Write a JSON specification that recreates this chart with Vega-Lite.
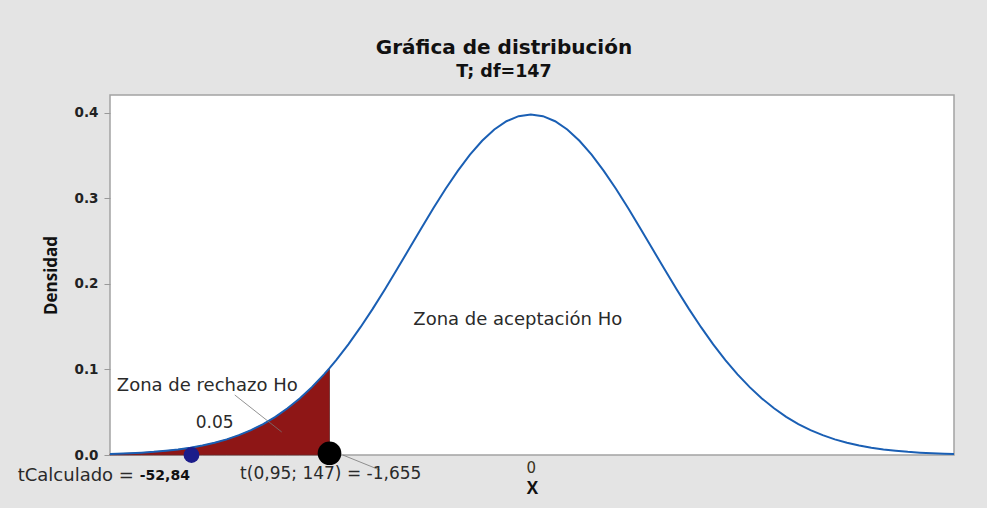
{
  "$schema": "https://vega.github.io/schema/vega-lite/v6.json",
  "width": 844,
  "height": 360,
  "autosize": {"type": "none"},
  "padding": {"left": 110, "top": 95, "right": 33, "bottom": 53},
  "background": "#e4e4e4",
  "config": {
    "view": {"stroke": "#a3a3a3", "fill": "white", "strokeWidth": 1.5},
    "font": "DejaVu Sans"
  },
  "title": {
    "text": "Gráfica de distribución",
    "subtitle": "T; df=147",
    "font": "DejaVu Sans",
    "subtitleFont": "DejaVu Sans",
    "fontSize": 20,
    "fontWeight": "bold",
    "subtitleFontSize": 17.5,
    "subtitleFontWeight": "bold",
    "color": "#111111",
    "subtitleColor": "#111111",
    "anchor": "middle",
    "dx": -28,
    "offset": 15,
    "subtitlePadding": 5
  },
  "datasets": {
    "curve": [
      {"t": -3.46, "density": 0.00122},
      {"t": -3.4, "density": 0.00147},
      {"t": -3.3, "density": 0.00201},
      {"t": -3.2, "density": 0.00273},
      {"t": -3.1, "density": 0.00367},
      {"t": -3.0, "density": 0.00496},
      {"t": -2.9, "density": 0.00649},
      {"t": -2.8, "density": 0.00851},
      {"t": -2.7, "density": 0.01108},
      {"t": -2.6, "density": 0.01429},
      {"t": -2.5, "density": 0.01828},
      {"t": -2.4, "density": 0.02317},
      {"t": -2.3, "density": 0.02911},
      {"t": -2.2, "density": 0.03622},
      {"t": -2.1, "density": 0.04468},
      {"t": -2.0, "density": 0.05462},
      {"t": -1.9, "density": 0.06613},
      {"t": -1.8, "density": 0.07935},
      {"t": -1.7, "density": 0.09429},
      {"t": -1.655, "density": 0.10159},
      {"t": -1.6, "density": 0.111},
      {"t": -1.5, "density": 0.12942},
      {"t": -1.4, "density": 0.14946},
      {"t": -1.3, "density": 0.17091},
      {"t": -1.2, "density": 0.19358},
      {"t": -1.1, "density": 0.21713},
      {"t": -1.0, "density": 0.24115},
      {"t": -0.9, "density": 0.2652},
      {"t": -0.8, "density": 0.28877},
      {"t": -0.7, "density": 0.31133},
      {"t": -0.6, "density": 0.33232},
      {"t": -0.5, "density": 0.35121},
      {"t": -0.4, "density": 0.36746},
      {"t": -0.3, "density": 0.38062},
      {"t": -0.2, "density": 0.39032},
      {"t": -0.1, "density": 0.39626},
      {"t": 0.0, "density": 0.39826},
      {"t": 0.1, "density": 0.39626},
      {"t": 0.2, "density": 0.39032},
      {"t": 0.3, "density": 0.38062},
      {"t": 0.4, "density": 0.36746},
      {"t": 0.5, "density": 0.35121},
      {"t": 0.6, "density": 0.33232},
      {"t": 0.7, "density": 0.31133},
      {"t": 0.8, "density": 0.28877},
      {"t": 0.9, "density": 0.2652},
      {"t": 1.0, "density": 0.24115},
      {"t": 1.1, "density": 0.21713},
      {"t": 1.2, "density": 0.19358},
      {"t": 1.3, "density": 0.17091},
      {"t": 1.4, "density": 0.14946},
      {"t": 1.5, "density": 0.12942},
      {"t": 1.6, "density": 0.111},
      {"t": 1.7, "density": 0.09429},
      {"t": 1.8, "density": 0.07935},
      {"t": 1.9, "density": 0.06613},
      {"t": 2.0, "density": 0.05462},
      {"t": 2.1, "density": 0.04468},
      {"t": 2.2, "density": 0.03622},
      {"t": 2.3, "density": 0.02911},
      {"t": 2.4, "density": 0.02317},
      {"t": 2.5, "density": 0.01828},
      {"t": 2.6, "density": 0.01429},
      {"t": 2.7, "density": 0.01108},
      {"t": 2.8, "density": 0.00851},
      {"t": 2.9, "density": 0.00649},
      {"t": 3.0, "density": 0.00496},
      {"t": 3.1, "density": 0.00367},
      {"t": 3.2, "density": 0.00273},
      {"t": 3.3, "density": 0.00201},
      {"t": 3.4, "density": 0.00147},
      {"t": 3.48, "density": 0.00114}
    ],
    "leaders": [
      {"x1": -2.434, "y1": 0.0702, "x2": -2.048, "y2": 0.0269},
      {"x1": -1.546, "y1": 0.0, "x2": -1.242, "y2": -0.0175}
    ],
    "dots": [
      {"t": -2.79, "density": 0.0, "kind": "tCalculado"},
      {"t": -1.655, "density": 0.002, "kind": "critico"}
    ],
    "labels": [
      {"x": -2.66, "y": 0.0807, "label": "Zona de rechazo Ho"},
      {"x": -0.107, "y": 0.158, "label": "Zona de aceptación Ho"}
    ],
    "smalllabels": [
      {"x": -2.6, "y": 0.0374, "label": "0.05"},
      {"x": -1.645, "y": -0.0222, "label": "t(0,95; 147) = -1,655"}
    ],
    "leftlabels": [
      {"x": -4.219, "y": -0.0246, "label": "tCalculado = "}
    ],
    "boldlabels": [
      {"x": -3.215, "y": -0.0246, "label": "-52,84"}
    ]
  },
  "layer": [
    {
      "data": {"name": "curve"},
      "transform": [{"filter": "datum.t <= -1.655"}],
      "mark": {"type": "area", "color": "#8e1616", "opacity": 1, "stroke": "#6a2a2a", "strokeWidth": 0.8},
      "encoding": {
        "x": {
          "field": "t",
          "type": "quantitative",
          "scale": {"domain": [-3.46, 3.48], "nice": false, "zero": false},
          "axis": {
            "values": [0],
            "format": "d",
            "title": "X",
            "grid": false,
            "domain": false,
            "ticks": false,
            "labelFontSize": 15,
            "labelColor": "#3a3320",
            "labelPadding": 5,
            "titleFont": "Open Sans",
            "titleFontSize": 17,
            "titleFontWeight": "bold",
            "titleColor": "#111111",
            "titlePadding": 5
          }
        },
        "y": {
          "field": "density",
          "type": "quantitative",
          "scale": {"domain": [0, 0.421], "nice": false},
          "axis": {
            "values": [0, 0.1, 0.2, 0.3, 0.4],
            "format": ".1f",
            "title": "Densidad",
            "grid": false,
            "domain": false,
            "tickSize": 6,
            "tickColor": "#999999",
            "labelFontSize": 13.5,
            "labelFontWeight": "bold",
            "labelColor": "#222222",
            "labelPadding": 6,
            "titleFont": "Open Sans",
            "titleFontSize": 17,
            "titleFontWeight": "bold",
            "titleColor": "#111111",
            "titlePadding": 14
          }
        }
      }
    },
    {
      "data": {"name": "curve"},
      "mark": {"type": "line", "color": "#1a5fb4", "strokeWidth": 2},
      "encoding": {
        "x": {"field": "t", "type": "quantitative"},
        "y": {"field": "density", "type": "quantitative"}
      }
    },
    {
      "data": {"name": "leaders"},
      "mark": {"type": "rule", "color": "#777777", "strokeWidth": 0.8},
      "encoding": {
        "x": {"field": "x1", "type": "quantitative"},
        "y": {"field": "y1", "type": "quantitative"},
        "x2": {"field": "x2"},
        "y2": {"field": "y2"}
      }
    },
    {
      "data": {"name": "dots"},
      "mark": {"type": "circle", "opacity": 1},
      "encoding": {
        "x": {"field": "t", "type": "quantitative"},
        "y": {"field": "density", "type": "quantitative"},
        "color": {
          "field": "kind",
          "type": "nominal",
          "scale": {"domain": ["tCalculado", "critico"], "range": ["#1c1c8a", "#000000"]},
          "legend": null
        },
        "size": {
          "field": "kind",
          "type": "nominal",
          "scale": {"domain": ["tCalculado", "critico"], "range": [250, 560]},
          "legend": null
        }
      }
    },
    {
      "data": {"name": "labels"},
      "mark": {"type": "text", "fontSize": 18, "color": "#2a2a2a", "baseline": "middle", "align": "center"},
      "encoding": {
        "x": {"field": "x", "type": "quantitative"},
        "y": {"field": "y", "type": "quantitative"},
        "text": {"field": "label"}
      }
    },
    {
      "data": {"name": "smalllabels"},
      "mark": {"type": "text", "fontSize": 17, "color": "#2a2a2a", "baseline": "middle", "align": "center"},
      "encoding": {
        "x": {"field": "x", "type": "quantitative"},
        "y": {"field": "y", "type": "quantitative"},
        "text": {"field": "label"}
      }
    },
    {
      "data": {"name": "leftlabels"},
      "mark": {"type": "text", "fontSize": 18, "color": "#2a2a2a", "baseline": "middle", "align": "left"},
      "encoding": {
        "x": {"field": "x", "type": "quantitative"},
        "y": {"field": "y", "type": "quantitative"},
        "text": {"field": "label"}
      }
    },
    {
      "data": {"name": "boldlabels"},
      "mark": {"type": "text", "fontSize": 14, "fontWeight": "bold", "color": "#111111", "baseline": "middle", "align": "left"},
      "encoding": {
        "x": {"field": "x", "type": "quantitative"},
        "y": {"field": "y", "type": "quantitative"},
        "text": {"field": "label"}
      }
    }
  ]
}
